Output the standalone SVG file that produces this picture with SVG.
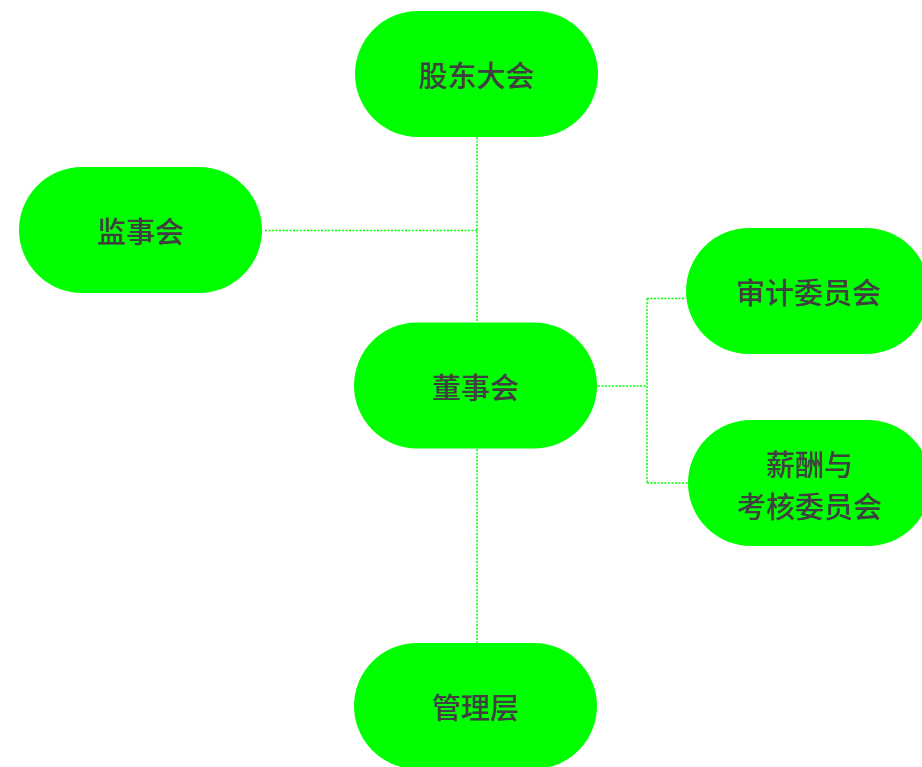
<svg xmlns="http://www.w3.org/2000/svg" width="922" height="767" viewBox="0 0 922 767">
<style>
.n{fill:#00ff00}
.t{font-family:"Noto Sans CJK SC","Noto Sans",sans-serif;font-size:29px;font-weight:500;fill:#404040;text-anchor:middle;dominant-baseline:central}
.c{stroke:#00ff00;stroke-width:1.5;stroke-dasharray:2 1.5;fill:none}
</style>
<rect width="922" height="767" fill="#ffffff"/>
<g id="connectors">
<path class="c" d="M477,137 V322"/>
<path class="c" d="M265,230.5 H477"/>
<path class="c" d="M477,449 V643"/>
<path class="c" d="M598,386 H647 M647,298.5 V483 M647,298.5 H686 M647,483 H688"/>
</g>
<g id="gudong"><rect class="n" x="355" y="11" width="243" height="126" rx="63"/><text class="t" x="476.5" y="74">股东大会</text></g>
<g id="jianshi"><rect class="n" x="19" y="167" width="243" height="126" rx="63"/><text class="t" x="140.5" y="230">监事会</text></g>
<g id="dongshi"><rect class="n" x="354" y="322.5" width="243" height="126" rx="63"/><text class="t" x="475.5" y="386">董事会</text></g>
<g id="shenji"><rect class="n" x="686" y="228" width="243" height="126" rx="63"/><text class="t" x="808.5" y="291">审计委员会</text></g>
<g id="xinchou"><rect class="n" x="688" y="420" width="243" height="126" rx="63"/><text class="t" x="809.5" y="463">薪酬与</text><text class="t" x="809.5" y="505">考核委员会</text></g>
<g id="guanli"><rect class="n" x="354" y="643" width="243" height="126" rx="63"/><text class="t" x="475.5" y="706">管理层</text></g>
</svg>
